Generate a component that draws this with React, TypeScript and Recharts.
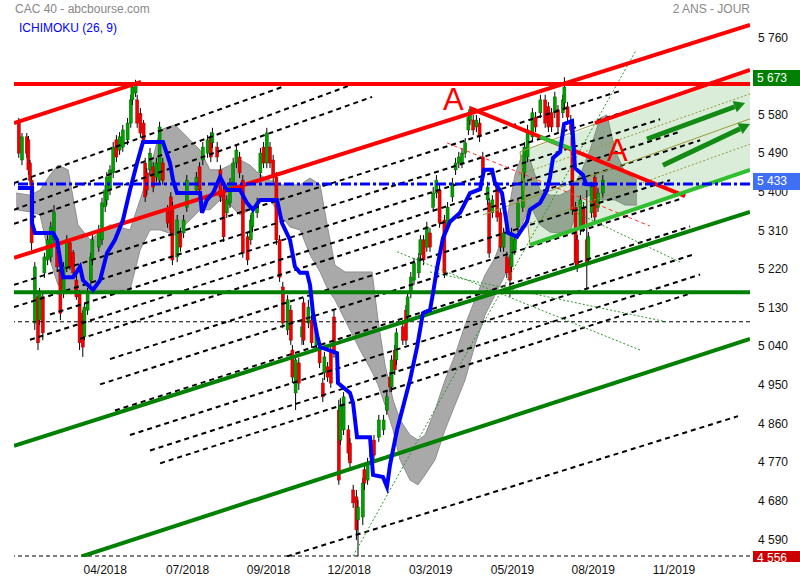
import { ComposedChart, XAxis, YAxis, Bar, Line, Area, ReferenceLine } from 'recharts';

// daily candles: [day, open, high, low, close]
const candles = [
  [3, 5560, 5572, 5479, 5490], [5, 5474, 5537, 5462, 5528], [8, 5528, 5537, 5479, 5490], [9, 5521, 5530, 5439, 5451],
  [10, 5467, 5474, 5416, 5427], [11, 5427, 5433, 5264, 5281], [13, 5094, 5236, 5078, 5225], [15, 5155, 5171, 5031, 5048],
  [16, 5101, 5176, 5089, 5164], [18, 5155, 5164, 5054, 5071], [19, 5211, 5258, 5199, 5248], [21, 5241, 5299, 5229, 5288],
  [23, 5248, 5330, 5236, 5318], [25, 5288, 5369, 5276, 5353], [27, 5271, 5283, 5213, 5225], [29, 5218, 5229, 5101, 5117],
  [31, 5164, 5236, 5152, 5225], [33, 5225, 5299, 5213, 5288], [35, 5281, 5292, 5218, 5225], [37, 5258, 5264, 5199, 5211],
  [39, 5194, 5206, 5148, 5155], [41, 5164, 5171, 5031, 5048], [43, 5117, 5124, 5015, 5038], [44, 5062, 5140, 5054, 5131],
  [46, 5124, 5176, 5113, 5164], [48, 5194, 5258, 5183, 5248], [49, 5241, 5299, 5229, 5288], [53, 5271, 5323, 5260, 5311],
  [55, 5288, 5386, 5276, 5374], [57, 5365, 5416, 5353, 5404], [58, 5381, 5446, 5369, 5434], [60, 5404, 5462, 5392, 5451],
  [62, 5444, 5516, 5432, 5504], [64, 5521, 5532, 5469, 5481], [66, 5497, 5539, 5486, 5528], [68, 5504, 5556, 5493, 5544],
  [71, 5521, 5572, 5509, 5560], [73, 5560, 5626, 5549, 5614], [74, 5614, 5656, 5602, 5644], [76, 5630, 5661, 5621, 5649],
  [77, 5614, 5626, 5549, 5560], [79, 5583, 5595, 5526, 5537], [81, 5560, 5567, 5509, 5521], [82, 5467, 5479, 5376, 5388],
  [83, 5444, 5455, 5392, 5404], [85, 5451, 5502, 5439, 5490], [87, 5458, 5469, 5399, 5411], [89, 5434, 5479, 5423, 5467],
  [91, 5427, 5563, 5416, 5551], [93, 5467, 5479, 5416, 5427], [96, 5358, 5369, 5316, 5327], [98, 5388, 5399, 5299, 5311],
  [99, 5364, 5376, 5229, 5241], [102, 5248, 5346, 5236, 5334], [104, 5304, 5316, 5260, 5271], [106, 5304, 5346, 5292, 5334],
  [108, 5364, 5439, 5353, 5427], [114, 5404, 5446, 5392, 5434], [116, 5458, 5469, 5392, 5404], [118, 5474, 5516, 5462, 5504],
  [121, 5490, 5532, 5479, 5521], [123, 5528, 5539, 5469, 5481], [124, 5514, 5549, 5502, 5537], [127, 5504, 5516, 5469, 5481],
  [129, 5451, 5462, 5376, 5388], [131, 5404, 5416, 5283, 5295], [133, 5351, 5392, 5339, 5381], [135, 5374, 5432, 5362, 5420],
  [137, 5420, 5479, 5409, 5467], [139, 5467, 5509, 5455, 5497], [141, 5481, 5493, 5432, 5444], [143, 5427, 5439, 5246, 5257],
  [146, 5295, 5306, 5229, 5241], [148, 5288, 5346, 5276, 5334], [149, 5318, 5362, 5306, 5351], [152, 5351, 5386, 5339, 5374],
  [154, 5444, 5502, 5432, 5490], [156, 5504, 5516, 5455, 5467], [158, 5467, 5549, 5455, 5537], [160, 5504, 5516, 5455, 5467],
  [162, 5474, 5486, 5423, 5434], [164, 5434, 5446, 5276, 5288], [166, 5288, 5299, 5190, 5201], [168, 5178, 5190, 5082, 5094],
  [171, 5078, 5159, 5066, 5148], [173, 5124, 5136, 5043, 5054], [174, 5031, 5043, 4954, 4968], [176, 4931, 5019, 4891, 5008],
  [178, 5001, 5013, 4938, 4954], [180, 5062, 5097, 5043, 5085], [181, 5141, 5152, 5043, 5054], [184, 5094, 5148, 5082, 5131],
  [186, 5101, 5113, 5036, 5048], [189, 5043, 5089, 5031, 5078], [191, 5038, 5050, 4989, 5001], [193, 4954, 4966, 4910, 4922],
  [194, 4978, 5027, 4961, 5015], [196, 4992, 5003, 4957, 4968], [198, 5031, 5043, 4943, 4954], [200, 5108, 5124, 5013, 5024],
  [203, 4891, 4915, 4717, 4728], [204, 4821, 4919, 4810, 4903], [206, 4845, 4933, 4833, 4922], [209, 4845, 4856, 4775, 4791],
  [210, 4814, 4826, 4752, 4768], [212, 4705, 4717, 4663, 4675], [214, 4689, 4705, 4588, 4612], [215, 4635, 4682, 4550, 4665],
  [218, 4642, 4733, 4623, 4721], [219, 4752, 4763, 4705, 4721], [221, 4728, 4780, 4717, 4768], [223, 4782, 4810, 4770, 4798],
  [225, 4821, 4833, 4775, 4786], [228, 4828, 4880, 4817, 4868], [231, 4845, 4880, 4833, 4868], [233, 4891, 4933, 4880, 4922],
  [235, 4968, 4980, 4933, 4945], [236, 4945, 5019, 4933, 5008], [238, 5031, 5043, 4973, 4985], [239, 5008, 5082, 4996, 5071],
  [243, 5085, 5097, 5043, 5054], [245, 5124, 5136, 5043, 5054], [246, 5108, 5166, 5097, 5155], [248, 5164, 5213, 5152, 5201],
  [250, 5194, 5246, 5183, 5234], [253, 5211, 5257, 5199, 5246], [254, 5253, 5299, 5241, 5288], [256, 5288, 5299, 5229, 5241],
  [258, 5271, 5330, 5260, 5318], [260, 5304, 5316, 5260, 5271], [262, 5364, 5411, 5353, 5397], [264, 5397, 5439, 5385, 5427],
  [266, 5404, 5416, 5316, 5327], [269, 5334, 5346, 5199, 5211], [271, 5318, 5376, 5306, 5364], [274, 5388, 5432, 5376, 5420],
  [276, 5451, 5479, 5439, 5467], [278, 5467, 5493, 5455, 5481], [280, 5467, 5502, 5455, 5490], [282, 5490, 5525, 5479, 5514],
  [284, 5544, 5586, 5532, 5574], [285, 5567, 5600, 5556, 5591], [287, 5567, 5579, 5532, 5544], [289, 5551, 5579, 5539, 5567],
  [291, 5560, 5572, 5516, 5528], [293, 5481, 5493, 5432, 5444], [296, 5381, 5423, 5369, 5411], [297, 5374, 5385, 5246, 5257],
  [299, 5351, 5392, 5339, 5381], [302, 5411, 5423, 5330, 5341], [304, 5351, 5362, 5260, 5271], [306, 5271, 5316, 5260, 5304],
  [308, 5248, 5260, 5199, 5211], [310, 5241, 5253, 5155, 5194], [311, 5225, 5316, 5213, 5304], [313, 5264, 5299, 5253, 5288],
  [315, 5318, 5385, 5306, 5374], [318, 5364, 5455, 5353, 5444], [319, 5444, 5516, 5432, 5504], [321, 5481, 5556, 5469, 5544],
  [324, 5528, 5595, 5516, 5584], [326, 5574, 5586, 5539, 5551], [329, 5584, 5626, 5572, 5614], [332, 5614, 5626, 5549, 5560],
  [334, 5598, 5609, 5539, 5551], [336, 5584, 5595, 5539, 5551], [338, 5584, 5633, 5572, 5621], [340, 5591, 5602, 5539, 5551],
  [343, 5584, 5626, 5572, 5614], [344, 5607, 5667, 5595, 5644], [346, 5598, 5609, 5563, 5574], [348, 5567, 5579, 5532, 5544],
  [349, 5528, 5539, 5346, 5358], [351, 5364, 5376, 5222, 5234], [352, 5288, 5299, 5213, 5225], [354, 5311, 5392, 5299, 5381],
  [356, 5364, 5376, 5306, 5318], [358, 5288, 5404, 5171, 5234], [359, 5241, 5306, 5229, 5295], [361, 5351, 5423, 5339, 5411],
  [363, 5434, 5446, 5330, 5341], [365, 5364, 5409, 5353, 5397], [368, 5397, 5439, 5385, 5427],
];

// ichimoku kijun (26): [day, value]
const kijun = [
  [2.5, 5409], [11.3, 5409], [11.3, 5327], [13.1, 5304], [24.4, 5304], [26.9, 5288], [30.6, 5201], [36.9, 5201],
  [41.3, 5225], [43.1, 5194], [49.4, 5171], [53.8, 5194], [58.1, 5257], [63.1, 5288], [68.1, 5334], [72.5, 5404],
  [76.9, 5467], [80.6, 5516], [93.1, 5516], [97.5, 5467], [99.4, 5427], [101.9, 5397], [116.3, 5397], [117.5, 5351],
  [120.6, 5381], [124.4, 5397], [128.8, 5434], [133.1, 5404], [141.3, 5404], [145.6, 5374], [149.4, 5358], [153.8, 5381],
  [164.4, 5381], [167.5, 5327], [172.5, 5288], [175.6, 5225], [178.8, 5211], [183.1, 5211], [185, 5183], [186.9, 5117],
  [189.4, 5066], [191.3, 5038], [201.9, 5024], [202.5, 4954], [210, 4931], [211.9, 4908], [214.4, 4828], [222.5, 4828],
  [224.4, 4740], [230.6, 4735], [233.1, 4712], [235, 4763], [239.4, 4845], [247.5, 4961], [251.9, 5038], [255.6, 5117],
  [260, 5124], [261.9, 5164], [264.4, 5222], [268.1, 5292], [272.5, 5330], [278.8, 5351], [285, 5397], [291.3, 5406],
  [293.8, 5451], [298.8, 5451], [300.6, 5420], [305, 5397], [308.8, 5304], [314.4, 5295], [320.6, 5330], [322.5, 5358],
  [328.8, 5374], [333.1, 5404], [335, 5434], [336.9, 5479], [341.3, 5493], [343.8, 5558], [348.8, 5565], [350.6, 5455],
  [355.6, 5439], [357.5, 5418], [363.1, 5416],
];

// ichimoku cloud: [day, top, bottom]
const cloud = [
  [1.3, 5397, 5358], [10, 5392, 5353], [16.3, 5404, 5346], [22.5, 5439, 5241], [27.5, 5462, 5183], [33.8, 5451, 5171],
  [40, 5323, 5171], [47.5, 5288, 5171], [60, 5323, 5171], [72.5, 5311, 5171], [78.8, 5381, 5264], [85, 5451, 5311],
  [91.3, 5544, 5311], [100.6, 5556, 5299], [110, 5521, 5334], [116.3, 5497, 5358], [122.5, 5451, 5358], [128.8, 5451, 5381],
  [135, 5462, 5369], [141.3, 5474, 5346], [147.5, 5462, 5358], [153.8, 5439, 5381], [160, 5427, 5381], [166.3, 5416, 5346],
  [172.5, 5416, 5318], [178.8, 5416, 5311], [185, 5432, 5253], [191.3, 5416, 5213], [196.3, 5311, 5171], [200.6, 5229, 5148],
  [206.9, 5213, 5101], [216.3, 5213, 5031], [223.8, 5213, 4980], [227.5, 5101, 4950], [231.9, 4996, 4903], [236.9, 4915, 4845],
  [241.3, 4868, 4775], [247.5, 4833, 4728], [252.5, 4821, 4717], [256.9, 4833, 4740], [263.1, 4891, 4775], [269.4, 4961, 4845],
  [275.6, 5019, 4903], [281.9, 5089, 4961], [288.1, 5148, 5043], [294.4, 5206, 5113], [300.6, 5246, 5159], [306.9, 5311, 5206],
  [313.1, 5439, 5276], [317.5, 5486, 5323], [322.5, 5474, 5369], [328.8, 5404, 5323], [335, 5392, 5306], [341.3, 5392, 5304],
  [347.5, 5404, 5306], [353.8, 5439, 5381], [360, 5497, 5392], [366.3, 5572, 5381], [370.6, 5579, 5381], [375.6, 5497, 5381],
  [381.9, 5444, 5369], [389.4, 5427, 5369],
];

// rising channel zone: [day, low, high]
const channel = [[316.3, 5493, 5493], [322.5, 5276, 5500], [460, 5451, 5679]];

// horizontal levels
const levelRed = 5651;
const levelBlue = 5418;
const levelGreen = 5166;
const levelsDashed = [5097, 4551];

// trend lines: [day1, price1, day2, price2]
const redLines = [[0, 5246, 460, 5789], [0, 5560, 79.4, 5656], [363.1, 5560, 460, 5684], [285, 5595, 419.4, 5390]];
const greenLines = [[42.3, 4550, 460, 5057], [0, 4808, 460, 5353]];
const lightGreenLines = [[322.5, 5276, 460, 5451], [328.8, 5528, 350.6, 5497]];
const arrows = [[395.6, 5523, 456.9, 5607], [405.6, 5462, 460, 5558]];
const dashedLines = [
  [0, 5420, 167.5, 5644], [0, 5358, 214.4, 5654], [0, 5325, 223.8, 5621], [0, 5183, 378.8, 5635],
  [0, 5131, 391.3, 5598], [22.5, 5114, 403.8, 5569], [10, 5055, 416.3, 5540], [41.3, 5057, 428.8, 5520],
  [60, 5010, 410, 5427], [53.8, 4951, 416.3, 5383], [63.1, 4890, 422.5, 5319], [72.5, 4833, 425.6, 5255],
  [85, 4797, 428.8, 5207], [91.3, 4767, 428.8, 5170], [170.6, 4550, 452.5, 4877],
];
const oliveSolid = [[293.1, 5346, 460, 5570], [316.3, 5493, 363.1, 5558], [316.3, 5493, 322.5, 5276]];
const oliveDotted = [[315, 5439, 460, 5628], [322.5, 5327, 460, 5511]];
const greenThin = [[211.9, 4551, 388.8, 5730], [239.4, 5260, 391.3, 5031], [260, 5213, 407.5, 5097], [347.5, 5358, 416.3, 5236]];
const redThin = [[270.6, 5514, 397.5, 5320]];

const priceTicks = [4590, 4680, 4770, 4860, 4950, 5040, 5130, 5220, 5310, 5400, 5490, 5580, 5760];
const monthTicks = [57, 108.5, 159, 209.5, 260.5, 311.5, 362, 412.5];
const monthLabels = ['04/2018', '07/2018', '09/2018', '12/2018', '03/2019', '05/2019', '08/2019', '11/2019'];

const candleRows = candles.map(([day, open, high, low, close]) => ({ day, open, high, low, close, range: [low, high] }));
const kijunRows = kijun.map(([day, v]) => ({ day, kijun: v }));
const cloudRows = cloud.map(([day, top, bottom]) => ({ day, cloud: [bottom, top] }));
const channelRows = channel.map(([day, lo, hi]) => ({ day, zone: [lo, hi] }));

const fmt = (v: number) => String(v).replace(/\B(?=(\d{3})+(?!\d))/g, ' ');
const font = '"Liberation Sans", Arial, sans-serif';

const Candle = (props: any) => {
  const { x, y, width, height, payload } = props;
  if (!payload) return null;
  const top = Math.min(y, y + height);
  const h = Math.abs(height);
  const { open, close, high, low } = payload;
  const k = h / (high - low || 1);
  const yo = top + (high - open) * k;
  const yc = top + (high - close) * k;
  const up = close >= open;
  const cx = x + width / 2;
  return (
    <g>
      <line x1={cx} x2={cx} y1={top} y2={top + h} stroke="#000" strokeWidth={1} />
      <rect x={cx - 1.5} width={3} y={Math.min(yo, yc)} height={Math.max(1, Math.abs(yc - yo))}
        fill={up ? '#00a000' : '#f00000'} stroke={up ? '#006000' : '#a00000'} strokeWidth={0.5} />
    </g>
  );
};

const Arrow = (props: any) => {
  const { x1, y1, x2, y2 } = props;
  const a = Math.atan2(y2 - y1, x2 - x1);
  const len = 11, wid = 6;
  const bx = x2 - len * Math.cos(a), by = y2 - len * Math.sin(a);
  const px = -Math.sin(a) * wid, py = Math.cos(a) * wid;
  return (
    <g>
      <line x1={x1} y1={y1} x2={bx} y2={by} stroke="#138a13" strokeWidth={5} />
      <polygon points={`${x2},${y2} ${bx + px},${by + py} ${bx - px},${by - py}`} fill="#138a13" />
    </g>
  );
};

const seg = (s: number[]) => [{ x: s[0], y: s[1] }, { x: s[2], y: s[3] }];

const box = (top: number, h: number, bg: string): any => ({
  position: 'absolute', left: 753, top, width: 47, height: h, background: bg, color: '#fff',
  fontSize: 12, lineHeight: '16px', paddingLeft: 4, boxSizing: 'border-box', overflow: 'hidden', fontFamily: font,
});

export default function App() {
  return (
    <div style={{ position: 'absolute', left: 0, top: 0, width: 800, height: 580, background: '#fff', fontFamily: font }}>
      <ComposedChart width={800} height={580} data={candleRows} margin={{ top: 20, right: 0, bottom: 0, left: 14 }} style={{ fontFamily: font }}>
        <XAxis dataKey="day" type="number" domain={[0, 460]} allowDataOverflow ticks={monthTicks} interval={0}
          tickFormatter={(v: number) => monthLabels[monthTicks.indexOf(v)] ?? ''} axisLine={false} tickLine={false}
          height={23} tick={{ fill: '#111', fontSize: 12 }} />
        <YAxis orientation="right" type="number" domain={[4548.7, 5800.3]} allowDataOverflow ticks={priceTicks} interval={0}
          tickFormatter={fmt} axisLine={false} tickLine={false} width={50} tick={{ fill: '#111', fontSize: 12, textAnchor: 'start' }} />

        <Area data={cloudRows} dataKey="cloud" type="linear" fill="#a9a9a9" fillOpacity={1} stroke="#8e8e8e" strokeWidth={1} isAnimationActive={false} />
        <Area data={channelRows} dataKey="zone" type="linear" fill="#2e9a2e" fillOpacity={0.18} stroke="none" isAnimationActive={false} />

        {dashedLines.map((s, i) => (
          <ReferenceLine key={'d' + i} segment={seg(s)} stroke="#000" strokeWidth={2} strokeDasharray="5 4" ifOverflow="hidden" />
        ))}
        {levelsDashed.map((v) => (
          <ReferenceLine key={'h' + v} y={v} stroke="#000" strokeWidth={1} strokeDasharray="4 3" />
        ))}
        {oliveSolid.map((s, i) => (
          <ReferenceLine key={'os' + i} segment={seg(s)} stroke="#9a9a3a" strokeWidth={1} ifOverflow="hidden" />
        ))}
        {oliveDotted.map((s, i) => (
          <ReferenceLine key={'od' + i} segment={seg(s)} stroke="#9a9a3a" strokeWidth={1} strokeDasharray="2 2" ifOverflow="hidden" />
        ))}
        {greenThin.map((s, i) => (
          <ReferenceLine key={'gt' + i} segment={seg(s)} stroke="#2a9a2a" strokeWidth={1} strokeDasharray="2 2" ifOverflow="hidden" />
        ))}
        {redThin.map((s, i) => (
          <ReferenceLine key={'rt' + i} segment={seg(s)} stroke="#ff3030" strokeWidth={1} strokeDasharray="4 3" ifOverflow="hidden" />
        ))}

        <Bar dataKey="range" barSize={3} shape={Candle} isAnimationActive={false} />

        <ReferenceLine y={levelRed} stroke="#ff0000" strokeWidth={4} />
        <ReferenceLine y={levelGreen} stroke="#008000" strokeWidth={4} />
        {redLines.map((s, i) => (
          <ReferenceLine key={'r' + i} segment={seg(s)} stroke="#ff0000" strokeWidth={4} ifOverflow="hidden" />
        ))}
        {greenLines.map((s, i) => (
          <ReferenceLine key={'g' + i} segment={seg(s)} stroke="#008000" strokeWidth={4} ifOverflow="hidden" />
        ))}
        {lightGreenLines.map((s, i) => (
          <ReferenceLine key={'lg' + i} segment={seg(s)} stroke="#2fbf2f" strokeWidth={4} ifOverflow="hidden" />
        ))}
        {arrows.map((s, i) => (
          <ReferenceLine key={'a' + i} segment={seg(s)} shape={Arrow} ifOverflow="hidden" />
        ))}

        <Line data={kijunRows} dataKey="kijun" type="linear" stroke="#0000ff" strokeWidth={4} dot={false} activeDot={false} isAnimationActive={false} />
        <ReferenceLine y={levelBlue} stroke="#0000ff" strokeWidth={3} strokeDasharray="10 3 3 3" />
      </ComposedChart>

      <div style={{ position: 'absolute', left: 15, top: 3, fontSize: 12, lineHeight: '12px', color: '#888' }}>CAC 40 - abcbourse.com</div>
      <div style={{ position: 'absolute', left: 19, top: 22, fontSize: 12, lineHeight: '12px', color: '#0000ff' }}>ICHIMOKU (26, 9)</div>
      <div style={{ position: 'absolute', right: 50, top: 3, fontSize: 12, lineHeight: '12px', color: '#888' }}>2 ANS - JOUR</div>
      <div style={{ position: 'absolute', left: 443, top: 84, fontSize: 31, lineHeight: '31px', color: '#ff0000' }}>A</div>
      <div style={{ position: 'absolute', left: 607, top: 135, fontSize: 31, lineHeight: '31px', color: '#ff0000' }}>A</div>
      <div style={box(70, 16, '#008000')}>5 673</div>
      <div style={box(173, 17, '#3f6ff5')}>5 433</div>
      <div style={box(551, 11, '#cc0000')}><div style={{ marginTop: -1 }}>4 556</div></div>
    </div>
  );
}
